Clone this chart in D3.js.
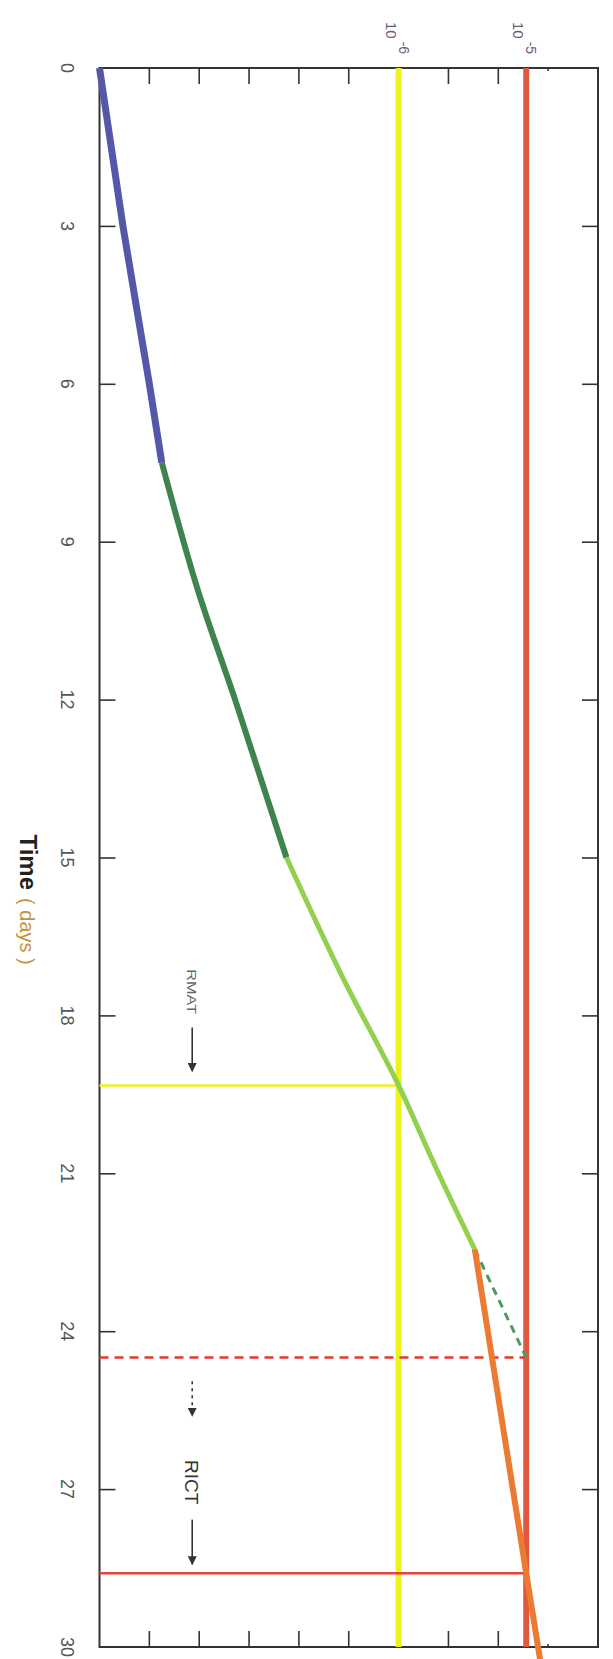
<!DOCTYPE html>
<html>
<head>
<meta charset="utf-8">
<script src="https://cdn.jsdelivr.net/npm/d3@7"></script>
<style>
  body { margin: 0; background: #fff; }
  svg { display: block; font-family: "Liberation Sans", Arial, sans-serif; }
</style>
</head>
<body>
<div id="chart"></div>
<script>
// time axis (days) and the level axis (schematic, one tick per step)
const timeTicks = [0, 3, 6, 9, 12, 15, 18, 21, 24, 27, 30];
const levelTicks = [1, 2, 3, 4, 5, 6, 7, 8, 9];

// limit lines: 10^-6 and 10^-5
const limitBase = ['10', '10'];
const limitExp = ['-6', '-5'];
const limitLevel = [6, 8.56];
const limitColor = ['#eef21c', '#e0583e'];

// the growth curve, piece by piece: [day, level]
const blueCurve = [[0, 0], [3, 0.47], [6, 1.0], [7.5, 1.25]];
const darkGreenCurve = [[7.5, 1.25], [10, 2.0], [12, 2.72], [15, 3.75]];
const lightGreenCurve = [[15, 3.75], [17.3, 4.89], [19.33, 6], [21, 6.8], [22.45, 7.53]];
const orangeCurve = [[22.45, 7.53], [28.6, 8.56], [30.25, 8.84]];
const dashedGreen = [[22.45, 7.53], [24.5, 8.56]];

// crossing times drawn as lines back to the time axis
const markTime = [19.33, 24.5, 28.6];
const markLevel = [6, 8.56, 8.56];
const markColor = ['#eef21c', '#e23c30', '#e8403a'];
const markDash = [null, '9,6', null];

// arrows [from day, to day] and labels
const arrowLevel = 1.86;
const arrowSpans = [[18.23, 19.06], [24.95, 25.61], [27.58, 28.43]];
const arrowDash = [null, '3,4', null];
const noteText = ['RMAT', 'RICT'];
const noteTime = [17.55, 26.87];

const W = 1579, H = 498.5;

const svg = d3.select('#chart')
  .append('svg')
  .attr('width', 613)
  .attr('height', 1659);

svg.append('defs').append('marker')
  .attr('id', 'head')
  .attr('viewBox', '0 0 10 10')
  .attr('refX', 9).attr('refY', 5)
  .attr('markerWidth', 9).attr('markerHeight', 9)
  .attr('markerUnits', 'userSpaceOnUse')
  .attr('orient', 'auto')
  .append('path')
    .attr('d', 'M0,0L10,5L0,10Z')
    .attr('fill', '#333');

// whole chart is drawn upright then turned a quarter clockwise
const g = svg.append('g')
  .attr('transform', 'translate(598,68) rotate(90)');

const x = d3.scaleLinear().domain([0, 30]).range([0, W]);
const y = d3.scaleLinear().domain([0, 10]).range([H, 0]);

const line = d3.line()
  .x(d => x(d[0]))
  .y(d => y(d[1]))
  .curve(d3.curveMonotoneX);

// ticks on all four sides, pointing in
const tickLen = d => d === 9 ? 3 : 16;

g.append('g')
  .attr('transform', `translate(0,${H})`)
  .call(d3.axisBottom(x).tickValues(timeTicks.slice(1, -1)).tickSize(-16).tickFormat(''));
g.append('g')
  .call(d3.axisTop(x).tickValues(timeTicks.slice(1, -1)).tickSize(-16).tickFormat(''));
levelTicks.forEach(v => {
  g.append('line')
    .attr('x1', 0).attr('x2', tickLen(v))
    .attr('y1', y(v)).attr('y2', y(v))
    .attr('stroke', '#333').attr('stroke-width', 1.6);
  g.append('line')
    .attr('x1', W).attr('x2', W - tickLen(v))
    .attr('y1', y(v)).attr('y2', y(v))
    .attr('stroke', '#333').attr('stroke-width', 1.6);
});
g.selectAll('.domain').remove();
g.selectAll('.tick line').attr('stroke', '#333').attr('stroke-width', 1.6);

g.append('rect')
  .attr('width', W).attr('height', H)
  .attr('fill', 'none')
  .attr('stroke', '#333')
  .attr('stroke-width', 2);

// time tick labels
g.selectAll('.tlabel')
  .data(timeTicks)
  .enter().append('text')
    .attr('class', 'tlabel')
    .attr('x', d => x(d))
    .attr('y', H + 39)
    .attr('text-anchor', 'middle')
    .attr('font-size', 18)
    .attr('fill', '#555')
    .text(d => d);

// axis title
const title = g.append('text')
  .attr('x', x(15.8))
  .attr('y', H + 80)
  .attr('text-anchor', 'middle');
title.append('tspan')
  .attr('font-size', 24).attr('font-weight', 'bold').attr('fill', '#222')
  .text('Time');
title.append('tspan')
  .attr('font-size', 20).attr('fill', '#c8903c')
  .attr('dx', 8)
  .text('( days )');

// limit lines and their labels
limitLevel.forEach((v, i) => {
  g.append('line')
    .attr('x1', x(0)).attr('x2', x(30))
    .attr('y1', y(v)).attr('y2', y(v))
    .attr('stroke', limitColor[i])
    .attr('stroke-width', 6);
  const t = g.append('text')
    .attr('x', -46)
    .attr('y', y(v) + 13)
    .attr('font-size', 15)
    .attr('fill', '#6a5a7a');
  t.append('tspan').text(limitBase[i]);
  t.append('tspan')
    .attr('dx', 3).attr('dy', -13)
    .attr('font-size', 14)
    .text(limitExp[i]);
});

// crossing lines
markTime.forEach((t, i) => {
  g.append('line')
    .attr('x1', x(t)).attr('x2', x(t))
    .attr('y1', y(0)).attr('y2', y(markLevel[i]))
    .attr('stroke', markColor[i])
    .attr('stroke-width', 2.5)
    .attr('stroke-dasharray', markDash[i]);
});

// curve pieces
const pieces = [
  [blueCurve, '#5558a8', 7, null],
  [darkGreenCurve, '#3f8450', 6, null],
  [lightGreenCurve, '#92d050', 5, null],
  [dashedGreen, '#4f9a5c', 3, '8,6'],
  [orangeCurve, '#ec7a30', 6, null]
];
pieces.forEach(p => {
  g.append('path')
    .datum(p[0])
    .attr('d', line)
    .attr('fill', 'none')
    .attr('stroke', p[1])
    .attr('stroke-width', p[2])
    .attr('stroke-dasharray', p[3]);
});

// arrows
arrowSpans.forEach((s, i) => {
  g.append('line')
    .attr('x1', x(s[0])).attr('x2', x(s[1]))
    .attr('y1', y(arrowLevel)).attr('y2', y(arrowLevel))
    .attr('stroke', '#333')
    .attr('stroke-width', 1.6)
    .attr('stroke-dasharray', arrowDash[i])
    .attr('marker-end', 'url(#head)');
});

// notes
g.append('text')
  .attr('x', x(noteTime[0]))
  .attr('y', y(arrowLevel) + 5)
  .attr('text-anchor', 'middle')
  .attr('font-size', 13)
  .attr('textLength', 45)
  .attr('lengthAdjust', 'spacingAndGlyphs')
  .attr('fill', '#666')
  .text(noteText[0]);
g.append('text')
  .attr('x', x(noteTime[1]))
  .attr('y', y(arrowLevel) + 7)
  .attr('text-anchor', 'middle')
  .attr('font-size', 19)
  .attr('fill', '#333')
  .text(noteText[1]);
</script>
</body>
</html>
